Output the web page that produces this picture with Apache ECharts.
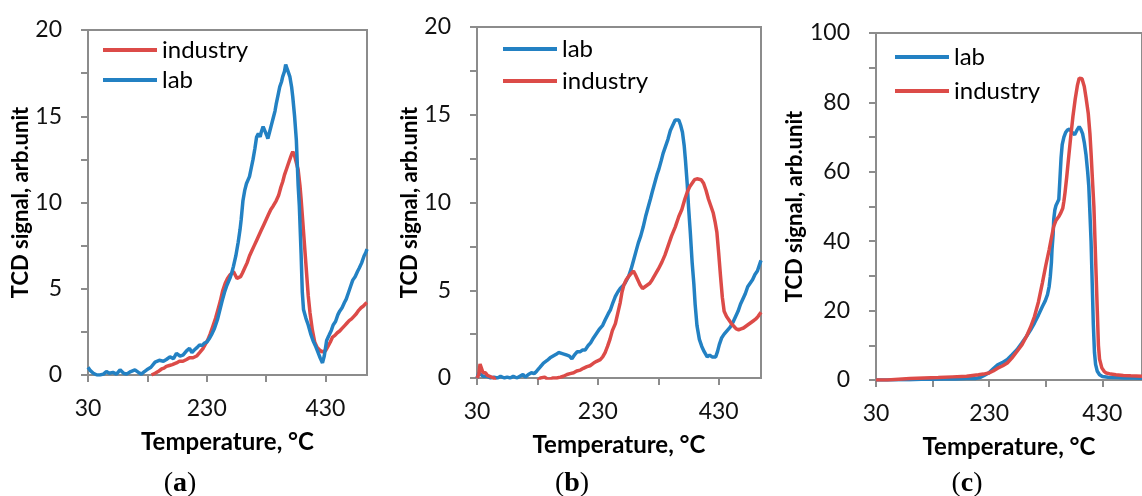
<!DOCTYPE html>
<html><head><meta charset="utf-8">
<script src="https://cdn.jsdelivr.net/npm/echarts@6/dist/echarts.min.js"></script>
<style>html,body{margin:0;padding:0;background:#fff}#c{width:1142px;height:496px}</style>
</head><body><div id="c"></div>
<script>
// ---- tick / label values ----
const xTicks = [30, 130, 230, 330, 430];
const xLabels = [30, 230, 430];
const yTicksAB = [0, 2.5, 5, 7.5, 10, 12.5, 15, 17.5, 20];
const yLabelsAB = [0, 5, 10, 15, 20];
const yTicksC = [0, 10, 20, 30, 40, 50, 60, 70, 80, 90, 100];
const yLabelsC = [0, 20, 40, 60, 80, 100];
const panelCaptions = ['a', 'b', 'c'];

// ---- panel (a) ----
const tA_lab = [30,34,39,45,50,56,61,66,72,78,84,90,95,102,109,115,120,125,129,136,143,150,157,162,168,174,179,185,190,196,201,205,209,214,218,222,226,230,235,239,243,248,252,256,260,264,269,272,275,279,283,286,288,291,294,297,302,305,308,311,314,317,320,322,325,328,331,333,336,339,342,345,347,350,353,356,358,361,363,365,367,370,373,375,378,381,384,386,389,391,393,397,401,405,409,413,417,421,425,428,432,436,440,443,447,451,454,458,462,465,469,473,476,480,484,487,491,495,498,500];
const vA_lab = [0.45,0.25,0.1,0.0,0.0,0.05,0.2,0.1,0.15,0.05,0.3,0.1,0.05,0.2,0.3,0.15,0.05,0.2,0.3,0.45,0.75,0.85,0.8,0.9,1.05,0.95,1.25,1.1,1.15,1.4,1.55,1.3,1.45,1.6,1.75,1.7,1.85,1.9,2.15,2.4,2.7,3.2,3.75,4.3,4.8,5.2,5.6,5.9,6.3,6.9,7.7,8.4,9.0,10.1,10.7,11.1,11.5,12.0,12.5,13.1,13.8,14.0,13.8,14.1,14.4,14.3,13.9,13.7,14.1,14.5,14.9,15.3,15.7,16.2,16.7,17.0,17.3,17.6,18.0,17.8,17.6,17.3,16.7,16.1,15.0,13.6,11.0,9.8,7.0,4.8,3.8,3.3,2.9,2.4,2.0,1.7,1.35,1.0,0.7,1.1,2.0,2.3,2.6,2.9,3.1,3.5,3.7,3.9,4.2,4.4,4.8,5.2,5.5,5.7,6.0,6.2,6.5,6.9,7.1,7.3];
const tA_ind = [137,143,148,154,158,162,167,172,179,184,190,196,201,207,213,218,224,228,232,236,240,245,249,253,257,261,265,269,272,275,278,281,284,287,290,294,298,302,306,310,314,318,322,326,330,334,338,342,347,351,355,358,361,364,367,370,373,375,378,381,384,387,389,392,395,398,401,404,408,412,416,420,424,427,430,434,438,442,446,450,454,458,462,466,470,474,478,482,486,490,494,498,500];
const vA_ind = [0.0,0.1,0.2,0.35,0.4,0.5,0.55,0.6,0.7,0.8,0.8,0.9,1.0,1.0,1.1,1.3,1.55,1.8,2.05,2.4,2.8,3.3,3.8,4.3,4.9,5.3,5.6,5.8,5.9,6.0,5.8,5.6,5.5,5.7,5.9,6.2,6.5,6.9,7.2,7.5,7.8,8.1,8.4,8.7,9.0,9.3,9.6,9.8,10.1,10.4,10.9,11.2,11.6,11.9,12.2,12.5,12.8,12.95,12.7,12.3,11.9,11.0,10.2,8.8,7.4,6.0,4.6,3.6,2.6,1.9,1.6,1.45,1.35,1.4,1.4,1.65,1.9,2.2,2.3,2.45,2.55,2.7,2.85,3.0,3.15,3.25,3.4,3.55,3.75,3.9,4.0,4.15,4.2];

// ---- panel (b) ----
const tB_lab = [30,33,36,40,46,52,58,64,69,75,80,85,90,96,101,106,110,115,120,125,129,134,140,146,151,156,161,165,170,175,179,183,187,191,196,201,205,209,214,218,223,228,233,238,242,247,251,255,259,263,267,270,274,278,281,285,289,293,297,301,305,309,313,317,320,324,328,331,335,338,342,346,350,354,358,361,364,367,370,373,375,378,380,383,386,389,391,394,398,402,406,411,415,419,422,425,428,431,435,439,444,449,454,458,462,466,470,474,478,482,486,490,494,498,500];
const vB_lab = [0.0,0.3,0.2,0.1,0.1,0.0,0.05,0.0,0.1,0.0,0.05,0.0,0.1,0.0,0.1,0.2,0.05,0.2,0.3,0.25,0.4,0.6,0.85,1.0,1.15,1.25,1.35,1.45,1.4,1.35,1.3,1.25,1.1,1.3,1.5,1.5,1.6,1.6,1.85,2.0,2.3,2.55,2.8,3.0,3.3,3.65,3.9,4.3,4.65,4.9,5.1,5.2,5.35,5.6,5.8,6.2,6.7,7.2,7.7,8.1,8.6,9.2,9.7,10.2,10.6,11.1,11.6,11.9,12.4,12.8,13.2,13.6,14.1,14.4,14.7,14.8,14.7,14.4,14.0,13.2,12.4,11.0,9.8,8.3,6.6,5.3,4.2,3.0,2.2,1.8,1.5,1.2,1.3,1.2,1.3,1.2,1.5,1.9,2.3,2.5,2.7,2.9,3.2,3.5,3.8,4.2,4.5,4.8,5.2,5.4,5.6,5.9,6.1,6.5,6.7];
const tB_ind = [30,33,35,37,40,44,47,50,54,58,62,70,80,90,100,108,115,125,135,142,148,155,162,168,173,179,184,190,195,201,206,212,217,223,228,234,238,242,246,250,254,259,263,267,270,273,277,281,285,289,292,296,300,304,308,312,316,320,325,330,336,341,347,352,358,364,369,374,378,382,386,390,394,397,401,405,409,413,417,421,424,427,430,433,436,439,443,447,451,455,459,463,467,471,475,479,483,487,491,495,500];
const vB_ind = [0.0,0.2,0.8,0.6,0.3,0.3,0.15,0.25,0.05,0.0,-0.3,-0.4,-0.3,-0.4,-0.3,-0.3,-0.3,-0.4,0.0,0.05,-0.1,0.0,0.0,0.05,0.1,0.2,0.25,0.3,0.4,0.45,0.55,0.65,0.7,0.85,0.95,1.05,1.2,1.45,1.8,2.2,2.7,3.1,3.7,4.3,4.9,5.3,5.6,5.8,5.95,6.1,5.9,5.6,5.3,5.1,5.2,5.3,5.4,5.6,5.9,6.2,6.6,7.0,7.6,8.1,8.6,9.2,9.6,10.2,10.6,10.9,11.1,11.3,11.35,11.4,11.3,11.1,10.7,10.2,9.8,9.4,8.9,8.3,7.1,5.8,4.6,3.8,3.5,3.3,3.1,2.95,2.8,2.75,2.8,2.85,2.95,3.05,3.15,3.25,3.35,3.5,3.75];

// ---- panel (c) ----
const tC_lab = [30,50,70,90,110,130,150,170,190,205,215,222,229,237,245,253,262,270,279,287,296,303,310,317,324,329,333,336,338,340,341,343,344,346,348,351,353,355,357,359,362,365,368,372,376,381,385,389,392,395,398,401,404,406,408,410,412,414,416,418,421,425,430,440,455,470,485,500];
const vC_lab = [0.0,0.0,0.1,0.1,0.2,0.2,0.3,0.3,0.4,0.4,0.8,1.4,2.0,3.2,4.4,5.0,5.9,7.2,8.7,10.5,12.6,14.4,16.4,18.7,21.2,22.8,24.6,27.0,29.9,34.0,37.6,42.0,46.2,49.0,50.3,50.5,52.0,58.0,64.0,67.8,70.0,71.3,72.0,72.3,71.5,70.7,72.0,73.0,72.2,71.0,68.5,65.0,60.0,55.8,48.0,40.0,28.0,16.0,8.0,4.5,2.5,1.5,1.0,0.8,0.7,0.6,0.6,0.5];
const tC_ind = [30,50,70,90,115,140,165,190,211,220,229,237,245,254,262,270,279,288,296,303,310,317,324,330,336,340,344,348,353,356,360,362,364,367,370,374,378,382,386,389,391,394,398,401,405,408,410,413,415,417,419,421,423,425,429,433,437,445,454,467,480,500];
const vC_ind = [0.0,0.0,0.2,0.4,0.6,0.7,0.9,1.1,1.5,1.7,2.0,2.6,3.4,4.1,4.9,6.3,8.2,10.2,12.6,15.2,18.3,22.5,28.0,33.0,37.6,41.0,44.3,46.0,47.1,48.0,49.5,51.5,54.0,58.5,63.5,70.0,76.0,81.0,85.0,87.0,87.5,86.8,84.6,81.5,76.9,71.0,65.4,56.0,50.0,40.0,30.0,20.0,10.0,6.0,3.5,2.5,2.0,1.7,1.5,1.3,1.2,1.1];

const BLUE = '#2381c3', RED = '#dc4b48', AXIS = '#8c8c8c';
const FONT = 'Lato';
const zip = (t, v) => t.map((x, i) => [x, v[i]]);

const grids = [
  {left: 88, top: 30, width: 279, height: 345},
  {left: 477, top: 27, width: 284, height: 351},
  {left: 876, top: 33, width: 278, height: 347}
];
const yMax = [20, 20, 100];
const yNameGap = [54, 55, 59];

function xAxis(i) {
  return {
    type: 'value', gridIndex: i, min: 30, max: 500,
    axisLine: {show: true, lineStyle: {color: AXIS, width: 2}},
    axisTick: {show: true, length: 7, lineStyle: {color: AXIS, width: 2}, customValues: xTicks},
    axisLabel: {customValues: xLabels, color: '#111', fontFamily: FONT, fontSize: 23, margin: 22},
    splitLine: {show: false},
    name: 'Temperature, °C', nameLocation: 'middle', nameGap: 55,
    nameTextStyle: {fontFamily: FONT, fontWeight: 'bold', fontSize: 24, color: '#000'}
  };
}
function yAxis(i) {
  const c = i === 2;
  return {
    type: 'value', gridIndex: i, min: 0, max: yMax[i],
    axisLine: {show: true, lineStyle: {color: AXIS, width: 2}},
    axisTick: {show: true, length: 7, lineStyle: {color: AXIS, width: 2}, customValues: c ? yTicksC : yTicksAB},
    axisLabel: {customValues: c ? yLabelsC : yLabelsAB, color: '#111', fontFamily: FONT, fontSize: 23, margin: 26},
    splitLine: {show: false},
    name: 'TCD signal, arb.unit', nameLocation: 'middle', nameGap: yNameGap[i], nameRotate: 90,
    nameTextStyle: {fontFamily: FONT, fontWeight: 'bold', fontSize: 22, color: '#000'}
  };
}
function line(name, i, data, color) {
  return {
    type: 'line', name, xAxisIndex: i, yAxisIndex: i, data, showSymbol: false, symbol: 'none',
    lineStyle: {color, width: 3.5}, itemStyle: {color}, clip: true, animation: false
  };
}
function legend(data, left, top, gap) {
  return {
    data, orient: 'vertical', left, top, padding: 0, itemWidth: 54, itemHeight: 4, icon: 'rect', itemGap: gap,
    textStyle: {fontFamily: FONT, fontSize: 24, color: '#000', lineHeight: 24}, selectedMode: false
  };
}
const capX = [180, 572, 967];

const option = {
  animation: false,
  backgroundColor: '#fff',
  grid: grids.map(g => Object.assign({show: true, borderColor: AXIS, borderWidth: 2, backgroundColor: 'transparent'}, g)),
  xAxis: [0, 1, 2].map(xAxis),
  yAxis: [0, 1, 2].map(yAxis),
  legend: [
    legend(['industry', 'lab'], 103, 38, 6),
    legend(['lab', 'industry'], 503, 37, 8),
    legend(['lab', 'industry'], 895, 45, 10)
  ],
  series: [
    line('industry', 0, zip(tA_ind, vA_ind), RED),
    line('lab', 0, zip(tA_lab, vA_lab), BLUE),
    line('lab', 1, zip(tB_lab, vB_lab), BLUE),
    line('industry', 1, zip(tB_ind, vB_ind), RED),
    line('lab', 2, zip(tC_lab, vC_lab), BLUE),
    line('industry', 2, zip(tC_ind, vC_ind), RED)
  ],
  graphic: panelCaptions.map((c, i) => ({
    type: 'text', x: capX[i], y: 484,
    style: {
      text: '{p|(}{b|' + c + '}{p|)}', align: 'center', verticalAlign: 'middle',
      rich: {
        p: {fontFamily: 'Liberation Serif', fontSize: 28, fill: '#000'},
        b: {fontFamily: 'Liberation Serif', fontSize: 28, fontWeight: 'bold', fill: '#000'}
      }
    }
  }))
};
const chart = echarts.init(document.getElementById('c'), null, {renderer: 'canvas'});
chart.setOption(option);
</script></body></html>
